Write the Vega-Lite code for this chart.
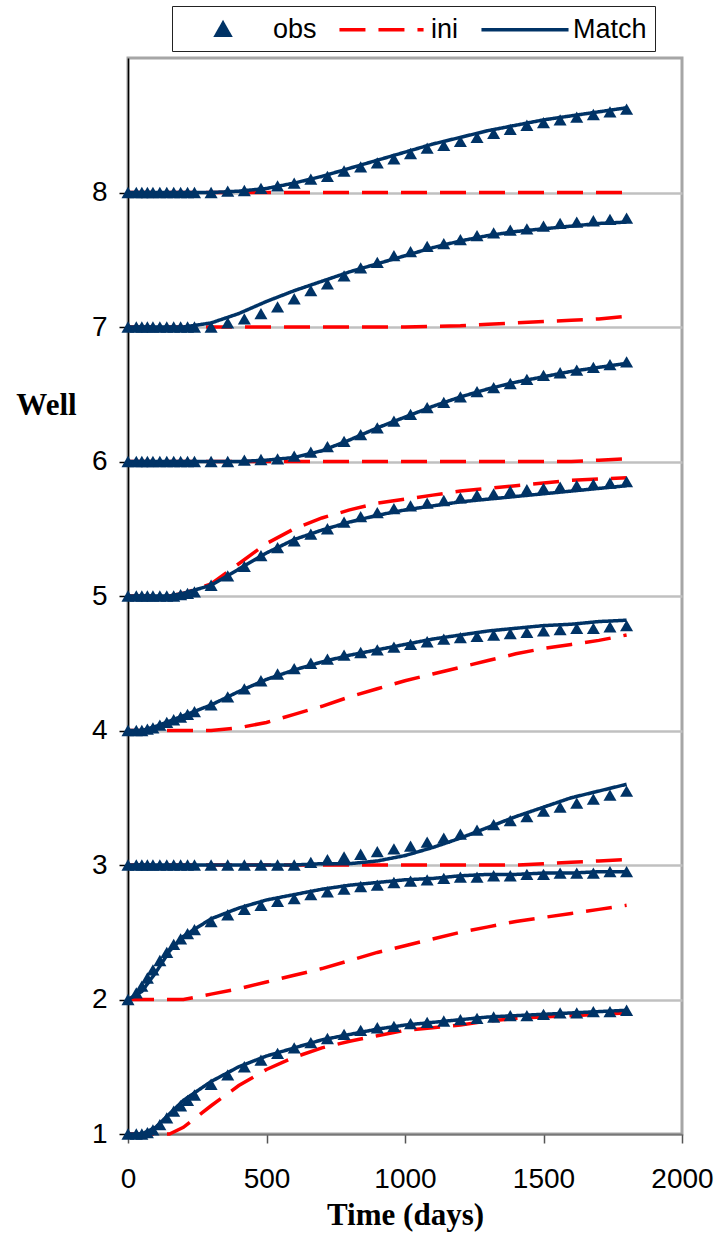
{
  "$schema": "https://vega.github.io/schema/vega-lite/v6.json",
  "width": 554,
  "height": 1076,
  "autosize": {"type": "none"},
  "padding": {"left": 128, "top": 58, "right": 38, "bottom": 103},
  "config": {
    "view": {"stroke": "#A6A6A6", "strokeWidth": 3},
    "font": "Liberation Sans"
  },
  "datasets": {
    "obs": [
      {"s": "obs", "t": 0, "w1": 1.0, "w2": 2.0, "w3": 3.0, "w4": 4.0, "w5": 5.0, "w6": 6.0, "w7": 7.0, "w8": 8.0},
      {"s": "obs", "t": 30, "w1": 1.0, "w2": 2.05, "w3": 3.0, "w4": 4.0, "w5": 5.0, "w6": 6.0, "w7": 7.0, "w8": 8.0},
      {"s": "obs", "t": 50, "w1": 1.0, "w2": 2.10, "w3": 3.0, "w4": 4.0, "w5": 5.0, "w6": 6.0, "w7": 7.0, "w8": 8.0},
      {"s": "obs", "t": 70, "w1": 1.01, "w2": 2.16, "w3": 3.0, "w4": 4.01, "w5": 5.0, "w6": 6.0, "w7": 7.0, "w8": 8.0},
      {"s": "obs", "t": 90, "w1": 1.03, "w2": 2.22, "w3": 3.0, "w4": 4.02, "w5": 5.0, "w6": 6.0, "w7": 7.0, "w8": 8.0},
      {"s": "obs", "t": 115, "w1": 1.07, "w2": 2.29, "w3": 3.0, "w4": 4.04, "w5": 5.0, "w6": 6.0, "w7": 7.0, "w8": 8.0},
      {"s": "obs", "t": 140, "w1": 1.12, "w2": 2.35, "w3": 3.0, "w4": 4.06, "w5": 5.0, "w6": 6.0, "w7": 7.0, "w8": 8.0},
      {"s": "obs", "t": 165, "w1": 1.17, "w2": 2.41, "w3": 3.0, "w4": 4.08, "w5": 5.0, "w6": 6.0, "w7": 7.0, "w8": 8.0},
      {"s": "obs", "t": 190, "w1": 1.21, "w2": 2.45, "w3": 3.0, "w4": 4.10, "w5": 5.01, "w6": 6.0, "w7": 7.0, "w8": 8.0},
      {"s": "obs", "t": 215, "w1": 1.25, "w2": 2.49, "w3": 3.0, "w4": 4.12, "w5": 5.02, "w6": 6.0, "w7": 7.0, "w8": 8.0},
      {"s": "obs", "t": 240, "w1": 1.29, "w2": 2.52, "w3": 3.0, "w4": 4.14, "w5": 5.03, "w6": 6.0, "w7": 7.0, "w8": 8.0},
      {"s": "obs", "t": 300, "w1": 1.37, "w2": 2.58, "w3": 3.0, "w4": 4.19, "w5": 5.08, "w6": 6.0, "w7": 7.0, "w8": 8.0},
      {"s": "obs", "t": 360, "w1": 1.44, "w2": 2.63, "w3": 3.0, "w4": 4.25, "w5": 5.15, "w6": 6.0, "w7": 7.03, "w8": 8.01},
      {"s": "obs", "t": 420, "w1": 1.50, "w2": 2.67, "w3": 3.0, "w4": 4.31, "w5": 5.22, "w6": 6.01, "w7": 7.06, "w8": 8.015},
      {"s": "obs", "t": 480, "w1": 1.55, "w2": 2.70, "w3": 3.0, "w4": 4.37, "w5": 5.30, "w6": 6.015, "w7": 7.10, "w8": 8.03},
      {"s": "obs", "t": 540, "w1": 1.60, "w2": 2.73, "w3": 3.0, "w4": 4.42, "w5": 5.36, "w6": 6.02, "w7": 7.15, "w8": 8.05},
      {"s": "obs", "t": 600, "w1": 1.64, "w2": 2.75, "w3": 3.0, "w4": 4.46, "w5": 5.41, "w6": 6.04, "w7": 7.21, "w8": 8.07},
      {"s": "obs", "t": 660, "w1": 1.68, "w2": 2.78, "w3": 3.02, "w4": 4.50, "w5": 5.46, "w6": 6.07, "w7": 7.27, "w8": 8.10},
      {"s": "obs", "t": 720, "w1": 1.71, "w2": 2.80, "w3": 3.04, "w4": 4.53, "w5": 5.50, "w6": 6.11, "w7": 7.32, "w8": 8.12},
      {"s": "obs", "t": 780, "w1": 1.74, "w2": 2.82, "w3": 3.06, "w4": 4.56, "w5": 5.55, "w6": 6.15, "w7": 7.38, "w8": 8.16},
      {"s": "obs", "t": 840, "w1": 1.77, "w2": 2.84, "w3": 3.08, "w4": 4.58, "w5": 5.59, "w6": 6.20, "w7": 7.44, "w8": 8.19},
      {"s": "obs", "t": 900, "w1": 1.79, "w2": 2.85, "w3": 3.10, "w4": 4.60, "w5": 5.62, "w6": 6.25, "w7": 7.48, "w8": 8.22},
      {"s": "obs", "t": 960, "w1": 1.80, "w2": 2.87, "w3": 3.12, "w4": 4.62, "w5": 5.65, "w6": 6.30, "w7": 7.53, "w8": 8.25},
      {"s": "obs", "t": 1020, "w1": 1.82, "w2": 2.88, "w3": 3.14, "w4": 4.64, "w5": 5.67, "w6": 6.35, "w7": 7.56, "w8": 8.29},
      {"s": "obs", "t": 1080, "w1": 1.83, "w2": 2.89, "w3": 3.17, "w4": 4.66, "w5": 5.69, "w6": 6.40, "w7": 7.60, "w8": 8.33},
      {"s": "obs", "t": 1140, "w1": 1.84, "w2": 2.90, "w3": 3.20, "w4": 4.68, "w5": 5.71, "w6": 6.44, "w7": 7.62, "w8": 8.35},
      {"s": "obs", "t": 1200, "w1": 1.85, "w2": 2.91, "w3": 3.23, "w4": 4.69, "w5": 5.73, "w6": 6.48, "w7": 7.65, "w8": 8.38},
      {"s": "obs", "t": 1260, "w1": 1.86, "w2": 2.91, "w3": 3.26, "w4": 4.70, "w5": 5.75, "w6": 6.52, "w7": 7.68, "w8": 8.41},
      {"s": "obs", "t": 1320, "w1": 1.87, "w2": 2.92, "w3": 3.30, "w4": 4.71, "w5": 5.76, "w6": 6.55, "w7": 7.70, "w8": 8.44},
      {"s": "obs", "t": 1380, "w1": 1.88, "w2": 2.92, "w3": 3.33, "w4": 4.72, "w5": 5.78, "w6": 6.58, "w7": 7.72, "w8": 8.47},
      {"s": "obs", "t": 1440, "w1": 1.88, "w2": 2.93, "w3": 3.36, "w4": 4.73, "w5": 5.79, "w6": 6.61, "w7": 7.73, "w8": 8.50},
      {"s": "obs", "t": 1500, "w1": 1.89, "w2": 2.93, "w3": 3.40, "w4": 4.74, "w5": 5.80, "w6": 6.64, "w7": 7.75, "w8": 8.52},
      {"s": "obs", "t": 1560, "w1": 1.90, "w2": 2.94, "w3": 3.43, "w4": 4.75, "w5": 5.81, "w6": 6.66, "w7": 7.77, "w8": 8.54},
      {"s": "obs", "t": 1620, "w1": 1.90, "w2": 2.94, "w3": 3.46, "w4": 4.76, "w5": 5.82, "w6": 6.68, "w7": 7.78, "w8": 8.56},
      {"s": "obs", "t": 1680, "w1": 1.91, "w2": 2.94, "w3": 3.49, "w4": 4.76, "w5": 5.83, "w6": 6.70, "w7": 7.79, "w8": 8.58},
      {"s": "obs", "t": 1740, "w1": 1.91, "w2": 2.95, "w3": 3.52, "w4": 4.77, "w5": 5.84, "w6": 6.72, "w7": 7.80, "w8": 8.60},
      {"s": "obs", "t": 1800, "w1": 1.92, "w2": 2.95, "w3": 3.55, "w4": 4.78, "w5": 5.85, "w6": 6.74, "w7": 7.81, "w8": 8.62}
    ],
    "lines": [
      {"s": "ini", "t": 0, "w1": 1.0, "w2": 2.0, "w3": 3.0, "w4": 4.0, "w5": 5.0, "w6": 6.0, "w7": 7.0, "w8": 8.0},
      {"s": "ini", "t": 50, "w1": 1.0, "w2": 2.0, "w3": 3.0, "w4": 4.0, "w5": 5.0, "w6": 6.0, "w7": 7.0, "w8": 8.0},
      {"s": "ini", "t": 100, "w1": 1.0, "w2": 2.0, "w3": 3.0, "w4": 4.0, "w5": 5.0, "w6": 6.0, "w7": 7.0, "w8": 8.0},
      {"s": "ini", "t": 150, "w1": 1.0, "w2": 2.0, "w3": 3.0, "w4": 4.0, "w5": 5.0, "w6": 6.0, "w7": 7.0, "w8": 8.0},
      {"s": "ini", "t": 200, "w1": 1.05, "w2": 2.0, "w3": 3.0, "w4": 4.0, "w5": 5.02, "w6": 6.0, "w7": 7.0, "w8": 8.0},
      {"s": "ini", "t": 300, "w1": 1.21, "w2": 2.04, "w3": 3.0, "w4": 4.0, "w5": 5.09, "w6": 6.0, "w7": 7.0, "w8": 8.0},
      {"s": "ini", "t": 400, "w1": 1.36, "w2": 2.08, "w3": 3.0, "w4": 4.02, "w5": 5.24, "w6": 6.0, "w7": 7.0, "w8": 8.0},
      {"s": "ini", "t": 500, "w1": 1.48, "w2": 2.13, "w3": 3.0, "w4": 4.06, "w5": 5.39, "w6": 6.0, "w7": 7.0, "w8": 8.0},
      {"s": "ini", "t": 600, "w1": 1.57, "w2": 2.18, "w3": 3.0, "w4": 4.12, "w5": 5.50, "w6": 6.0, "w7": 7.0, "w8": 8.0},
      {"s": "ini", "t": 700, "w1": 1.64, "w2": 2.23, "w3": 3.0, "w4": 4.18, "w5": 5.58, "w6": 6.0, "w7": 7.0, "w8": 8.0},
      {"s": "ini", "t": 800, "w1": 1.69, "w2": 2.29, "w3": 3.0, "w4": 4.25, "w5": 5.64, "w6": 6.0, "w7": 7.0, "w8": 8.0},
      {"s": "ini", "t": 900, "w1": 1.73, "w2": 2.35, "w3": 3.0, "w4": 4.31, "w5": 5.69, "w6": 6.0, "w7": 7.0, "w8": 8.0},
      {"s": "ini", "t": 1000, "w1": 1.77, "w2": 2.40, "w3": 3.0, "w4": 4.37, "w5": 5.72, "w6": 6.0, "w7": 7.0, "w8": 8.0},
      {"s": "ini", "t": 1100, "w1": 1.79, "w2": 2.45, "w3": 3.0, "w4": 4.42, "w5": 5.75, "w6": 6.0, "w7": 7.005, "w8": 8.0},
      {"s": "ini", "t": 1200, "w1": 1.81, "w2": 2.50, "w3": 3.0, "w4": 4.47, "w5": 5.78, "w6": 6.0, "w7": 7.01, "w8": 8.0},
      {"s": "ini", "t": 1300, "w1": 1.84, "w2": 2.54, "w3": 3.0, "w4": 4.52, "w5": 5.80, "w6": 6.0, "w7": 7.02, "w8": 8.0},
      {"s": "ini", "t": 1400, "w1": 1.86, "w2": 2.58, "w3": 3.0, "w4": 4.57, "w5": 5.82, "w6": 6.0, "w7": 7.03, "w8": 8.0},
      {"s": "ini", "t": 1500, "w1": 1.87, "w2": 2.61, "w3": 3.01, "w4": 4.61, "w5": 5.84, "w6": 6.0, "w7": 7.04, "w8": 8.0},
      {"s": "ini", "t": 1600, "w1": 1.88, "w2": 2.64, "w3": 3.02, "w4": 4.64, "w5": 5.86, "w6": 6.0, "w7": 7.05, "w8": 8.0},
      {"s": "ini", "t": 1700, "w1": 1.89, "w2": 2.67, "w3": 3.03, "w4": 4.67, "w5": 5.87, "w6": 6.01, "w7": 7.06, "w8": 8.0},
      {"s": "ini", "t": 1800, "w1": 1.90, "w2": 2.70, "w3": 3.04, "w4": 4.71, "w5": 5.88, "w6": 6.02, "w7": 7.08, "w8": 8.0},
      {"s": "Match", "t": 0, "w1": 1.0, "w2": 2.0, "w3": 3.0, "w4": 4.0, "w5": 5.0, "w6": 6.0, "w7": 7.0, "w8": 8.0},
      {"s": "Match", "t": 50, "w1": 1.0, "w2": 2.06, "w3": 3.0, "w4": 4.0, "w5": 5.0, "w6": 6.0, "w7": 7.0, "w8": 8.0},
      {"s": "Match", "t": 100, "w1": 1.05, "w2": 2.20, "w3": 3.0, "w4": 4.03, "w5": 5.0, "w6": 6.0, "w7": 7.0, "w8": 8.0},
      {"s": "Match", "t": 150, "w1": 1.15, "w2": 2.36, "w3": 3.0, "w4": 4.07, "w5": 5.0, "w6": 6.0, "w7": 7.0, "w8": 8.0},
      {"s": "Match", "t": 200, "w1": 1.25, "w2": 2.47, "w3": 3.0, "w4": 4.11, "w5": 5.02, "w6": 6.0, "w7": 7.0, "w8": 8.0},
      {"s": "Match", "t": 300, "w1": 1.39, "w2": 2.60, "w3": 3.0, "w4": 4.19, "w5": 5.08, "w6": 6.0, "w7": 7.03, "w8": 8.0},
      {"s": "Match", "t": 400, "w1": 1.50, "w2": 2.68, "w3": 3.0, "w4": 4.29, "w5": 5.20, "w6": 6.0, "w7": 7.10, "w8": 8.01},
      {"s": "Match", "t": 500, "w1": 1.58, "w2": 2.74, "w3": 3.0, "w4": 4.38, "w5": 5.32, "w6": 6.01, "w7": 7.19, "w8": 8.03},
      {"s": "Match", "t": 600, "w1": 1.64, "w2": 2.78, "w3": 3.0, "w4": 4.45, "w5": 5.42, "w6": 6.03, "w7": 7.27, "w8": 8.07},
      {"s": "Match", "t": 700, "w1": 1.70, "w2": 2.82, "w3": 3.01, "w4": 4.51, "w5": 5.49, "w6": 6.08, "w7": 7.34, "w8": 8.12},
      {"s": "Match", "t": 800, "w1": 1.74, "w2": 2.85, "w3": 3.01, "w4": 4.56, "w5": 5.55, "w6": 6.16, "w7": 7.41, "w8": 8.18},
      {"s": "Match", "t": 900, "w1": 1.78, "w2": 2.87, "w3": 3.03, "w4": 4.60, "w5": 5.60, "w6": 6.25, "w7": 7.47, "w8": 8.24},
      {"s": "Match", "t": 1000, "w1": 1.81, "w2": 2.89, "w3": 3.07, "w4": 4.64, "w5": 5.64, "w6": 6.33, "w7": 7.53, "w8": 8.30},
      {"s": "Match", "t": 1100, "w1": 1.83, "w2": 2.90, "w3": 3.13, "w4": 4.68, "w5": 5.67, "w6": 6.41, "w7": 7.59, "w8": 8.36},
      {"s": "Match", "t": 1200, "w1": 1.85, "w2": 2.92, "w3": 3.20, "w4": 4.71, "w5": 5.70, "w6": 6.48, "w7": 7.64, "w8": 8.41},
      {"s": "Match", "t": 1300, "w1": 1.87, "w2": 2.93, "w3": 3.28, "w4": 4.74, "w5": 5.72, "w6": 6.54, "w7": 7.68, "w8": 8.46},
      {"s": "Match", "t": 1400, "w1": 1.88, "w2": 2.93, "w3": 3.36, "w4": 4.76, "w5": 5.74, "w6": 6.59, "w7": 7.71, "w8": 8.50},
      {"s": "Match", "t": 1500, "w1": 1.89, "w2": 2.94, "w3": 3.43, "w4": 4.78, "w5": 5.76, "w6": 6.63, "w7": 7.73, "w8": 8.54},
      {"s": "Match", "t": 1600, "w1": 1.90, "w2": 2.94, "w3": 3.50, "w4": 4.79, "w5": 5.78, "w6": 6.67, "w7": 7.75, "w8": 8.57},
      {"s": "Match", "t": 1700, "w1": 1.91, "w2": 2.95, "w3": 3.55, "w4": 4.81, "w5": 5.80, "w6": 6.70, "w7": 7.77, "w8": 8.60},
      {"s": "Match", "t": 1800, "w1": 1.92, "w2": 2.95, "w3": 3.60, "w4": 4.82, "w5": 5.82, "w6": 6.73, "w7": 7.78, "w8": 8.63}
    ]
  },
  "encoding": {
    "x": {
      "field": "t", "type": "quantitative",
      "scale": {"domain": [0, 2000], "nice": false, "zero": false},
      "axis": {
        "title": "Time (days)", "values": [0, 500, 1000, 1500, 2000], "format": "d",
        "grid": false, "domainColor": "#777777", "domainWidth": 2,
        "tickColor": "#555555", "tickSize": 9, "tickWidth": 1.5,
        "labelFont": "Liberation Sans", "labelFontSize": 28, "labelColor": "#000000",
        "labelPadding": 22, "labelFlush": false,
        "titleFont": "Liberation Serif", "titleFontSize": 31, "titleFontWeight": "bold",
        "titleColor": "#000000", "titleBaseline": "middle", "titleY": 81
      }
    },
    "y": {
      "field": "value", "type": "quantitative",
      "scale": {"domain": [1, 9], "nice": false, "zero": false},
      "axis": {
        "title": "Well", "values": [1, 2, 3, 4, 5, 6, 7, 8], "format": "d",
        "grid": true, "gridColor": "#C0C0C0", "gridWidth": 2.5,
        "domainColor": "#000000", "domainWidth": 1.5,
        "tickColor": "#000000", "tickSize": 9, "tickWidth": 1.5,
        "labelFont": "Liberation Sans", "labelFontSize": 28, "labelColor": "#000000",
        "labelPadding": 12, "labelFlush": false,
        "titleFont": "Liberation Serif", "titleFontSize": 31, "titleFontWeight": "bold",
        "titleColor": "#000000", "titleAngle": 0, "titleAlign": "center",
        "titleBaseline": "middle", "titleX": -82, "titleY": 347
      }
    },
    "color": {
      "field": "s", "type": "nominal",
      "scale": {"domain": ["obs", "ini", "Match"], "range": ["#003366", "#FF0000", "#003366"]},
      "legend": {
        "title": null, "orient": "none", "legendX": 44, "legendY": -52,
        "direction": "horizontal", "strokeColor": "#222222", "fillColor": "#FFFFFF",
        "padding": 8, "labelFont": "Liberation Sans", "labelFontSize": 27, "labelColor": "#000000",
        "labelOffset": 62, "columnPadding": 15, "symbolSize": 729, "symbolStrokeWidth": 3.5,
        "encode": {
          "symbols": {
            "update": {
              "shape": {"signal": "datum.value === 'obs' ? 'M1.54,0.41L2.54,0.41L2.04,-0.47Z' : (datum.value === 'ini' ? 'M-1.04,0L5.19,0' : 'M-1.04,0L5.41,0')"},
              "size": {"value": 729},
              "fill": {"signal": "datum.value === 'obs' ? '#003366' : 'transparent'"},
              "stroke": {"signal": "datum.value === 'ini' ? '#FF0000' : (datum.value === 'obs' ? 'transparent' : '#003366')"},
              "strokeWidth": {"value": 3.5},
              "strokeDash": {"signal": "datum.value === 'ini' ? [26, 13] : [1, 0]"},
              "opacity": {"value": 1}
            }
          }
        }
      }
    }
  },
  "layer": [
    {
      "data": {"name": "lines"},
      "transform": [{"fold": ["w1", "w2", "w3", "w4", "w5", "w6", "w7", "w8"], "as": ["well", "value"]}],
      "mark": {"type": "line", "strokeWidth": 3.5},
      "encoding": {
        "strokeDash": {
          "field": "s", "type": "nominal",
          "scale": {"domain": ["obs", "ini", "Match"], "range": [[1, 0], [26, 13], [1, 0]]},
          "legend": null
        },
        "detail": {"field": "well", "type": "nominal"}
      }
    },
    {
      "data": {"name": "obs"},
      "transform": [{"fold": ["w1", "w2", "w3", "w4", "w5", "w6", "w7", "w8"], "as": ["well", "value"]}],
      "mark": {"type": "point", "shape": "triangle-up", "filled": true, "size": 170, "opacity": 1}
    }
  ]
}
